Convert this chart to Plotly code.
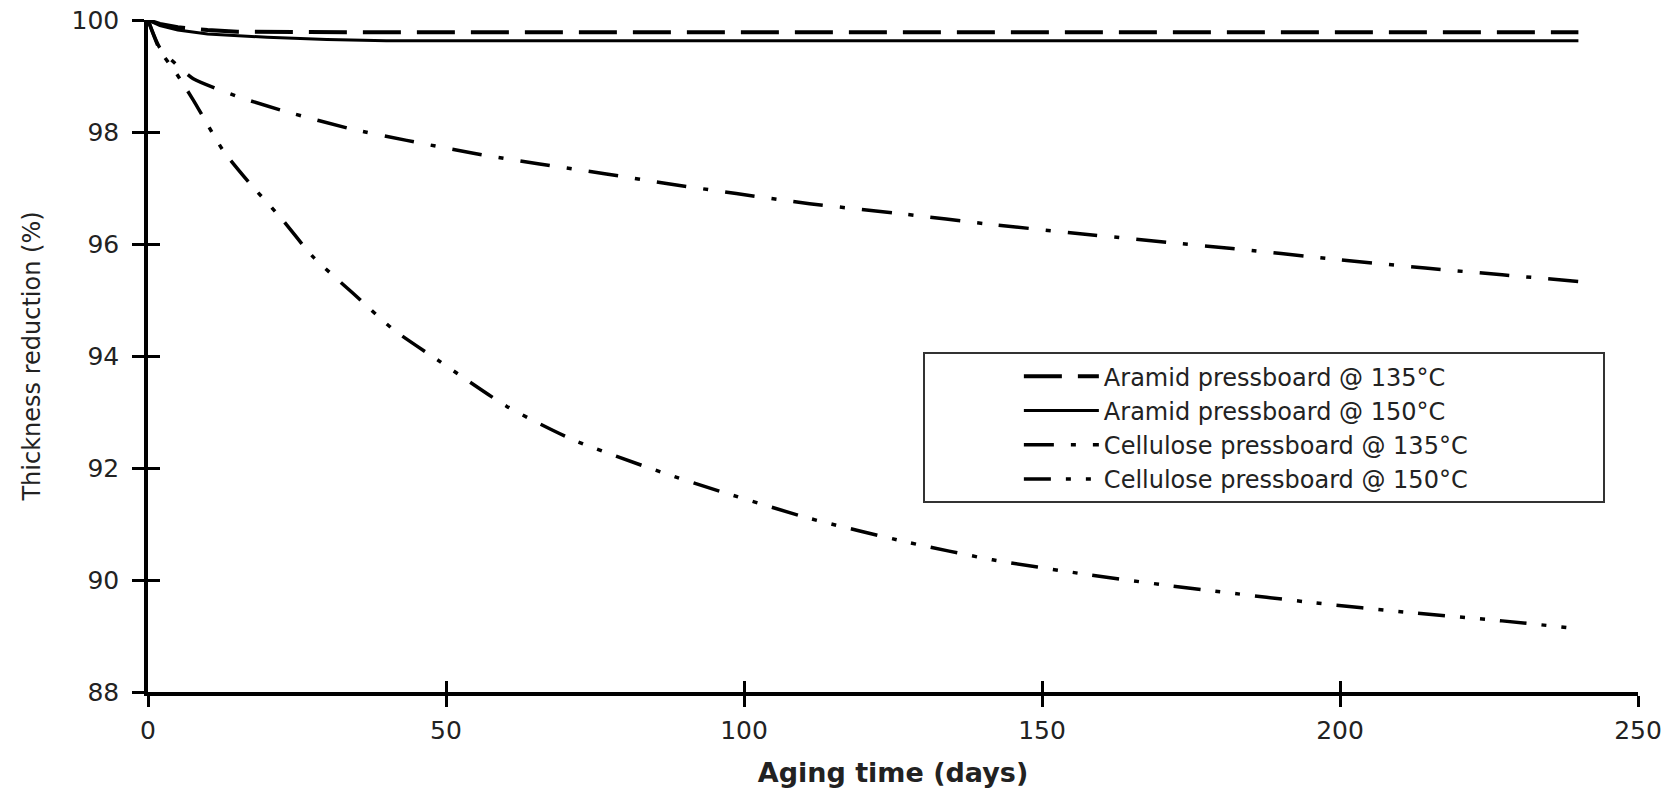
import plotly.graph_objects as go

# ---- data ----
days_ar135 = [0, 2, 5, 10, 15, 25, 40, 80, 120, 160, 200, 240]
thk_ar135 = [100, 99.93, 99.87, 99.82, 99.79, 99.78, 99.78, 99.78, 99.78, 99.78, 99.78, 99.78]

days_ar150 = [0, 2, 5, 10, 20, 30, 40, 80, 120, 160, 200, 240]
thk_ar150 = [100, 99.9, 99.82, 99.75, 99.69, 99.65, 99.63, 99.63, 99.63, 99.63, 99.63, 99.63]

days_ce135 = [0, 2, 4.8, 7.6, 15.4, 23.3, 33.9, 43.4, 54.6, 65.7, 76.9, 87, 98.7, 111,
              127.2, 140.6, 156.8, 171.9, 181.9, 198.1, 214.3, 227.2, 240]
thk_ce135 = [100, 99.5, 99.2, 98.95, 98.62, 98.36, 98.06, 97.85, 97.62, 97.43, 97.25, 97.08,
             96.90, 96.72, 96.53, 96.36, 96.18, 96.02, 95.92, 95.74, 95.57, 95.45, 95.33]

days_ce150 = [0, 2, 4.8, 7.6, 12.6, 17.1, 22.1, 27.7, 34.4, 41.2, 49, 60.2, 71.4, 86, 97,
              111, 127.2, 141.7, 156.8, 171.3, 179.1, 195.9, 211.5, 227.2, 240]
thk_ce150 = [100, 99.46, 99.04, 98.57, 97.67, 97.08, 96.49, 95.77, 95.12, 94.47, 93.90, 93.10,
             92.50, 91.93, 91.55, 91.10, 90.68, 90.36, 90.11, 89.90, 89.80, 89.59, 89.42, 89.27, 89.13]

names = ["Aramid pressboard @ 135°C", "Aramid pressboard @ 150°C",
         "Cellulose pressboard @ 135°C", "Cellulose pressboard @ 150°C"]

x_ticks = [0, 50, 100, 150, 200, 250]
y_ticks = [88, 90, 92, 94, 96, 98, 100]

FONT = "DejaVu Sans"
TXT = "#222222"
PAD = "\u00a0" * 17

fig = go.Figure()
fig.add_trace(go.Scatter(x=days_ar135, y=thk_ar135, mode="lines", name=names[0] + PAD,
                         line=dict(color="black", width=4, dash="38px,16px")))
fig.add_trace(go.Scatter(x=days_ar150, y=thk_ar150, mode="lines", name=names[1] + PAD,
                         line=dict(color="black", width=3)))
fig.add_trace(go.Scatter(x=days_ce135, y=thk_ce135, mode="lines", name=names[2] + PAD,
                         line=dict(color="black", width=3.5, dash="30px,17px,5px,17px",
                                   shape="spline", smoothing=0.6)))
fig.add_trace(go.Scatter(x=days_ce150, y=thk_ce150, mode="lines", name=names[3] + PAD,
                         line=dict(color="black", width=3.5, dash="27px,15px,5px,15px,5px,15px",
                                   shape="spline", smoothing=0.6)))
# helper (invisible) trace so the overlaid axes carrying the inner half of the tick marks are drawn
fig.add_trace(go.Scatter(x=[x_ticks[0]], y=[y_ticks[0]], xaxis="x2", yaxis="y2", mode="markers",
                         marker=dict(opacity=0), showlegend=False, hoverinfo="skip"))

tickfont = dict(family=FONT, size=25, color=TXT)
fig.update_layout(
    template="none",
    width=1674, height=788,
    margin=dict(l=148, r=36, t=19.5, b=96, autoexpand=False),
    paper_bgcolor="white", plot_bgcolor="white",
    showlegend=True,
    xaxis=dict(range=[0, 250], tickvals=x_ticks, ticks="outside", ticklen=11, tickwidth=3,
               tickcolor="black", showline=True, linewidth=3.5, linecolor="black",
               showgrid=False, zeroline=False, tickfont=tickfont, ticklabelstandoff=2,
               automargin=False,
               title=dict(text="<b>Aging time (days)</b>", font=dict(family=FONT, size=27, color=TXT),
                          standoff=25)),
    yaxis=dict(range=[88, 100], tickvals=y_ticks, ticks="outside", ticklen=12, tickwidth=3,
               tickcolor="black", showline=True, linewidth=3.5, linecolor="black",
               showgrid=False, zeroline=False, tickfont=tickfont, ticklabelstandoff=8,
               automargin=False,
               title=dict(text="Thickness reduction (%)", font=dict(family=FONT, size=24, color=TXT),
                          standoff=25)),
    xaxis2=dict(range=[0, 250], tickvals=x_ticks, overlaying="x", anchor="y", side="bottom",
                ticks="inside", ticklen=11, tickwidth=3, tickcolor="black", showticklabels=False,
                showline=False, showgrid=False, zeroline=False, automargin=False),
    yaxis2=dict(range=[88, 100], tickvals=y_ticks, overlaying="y", anchor="x", side="left",
                ticks="inside", ticklen=12, tickwidth=3, tickcolor="black", showticklabels=False,
                showline=False, showgrid=False, zeroline=False, automargin=False),
    legend=dict(x=0.5201, y=0.5056, xanchor="left", yanchor="top", bgcolor="white",
                bordercolor="#333333", borderwidth=2, itemwidth=75,
                font=dict(family=FONT, size=24, color=TXT),
                title=dict(text="\u00a0" * 11, side="left", font=dict(family=FONT, size=24))),
)

fig.write_html("out.html")
